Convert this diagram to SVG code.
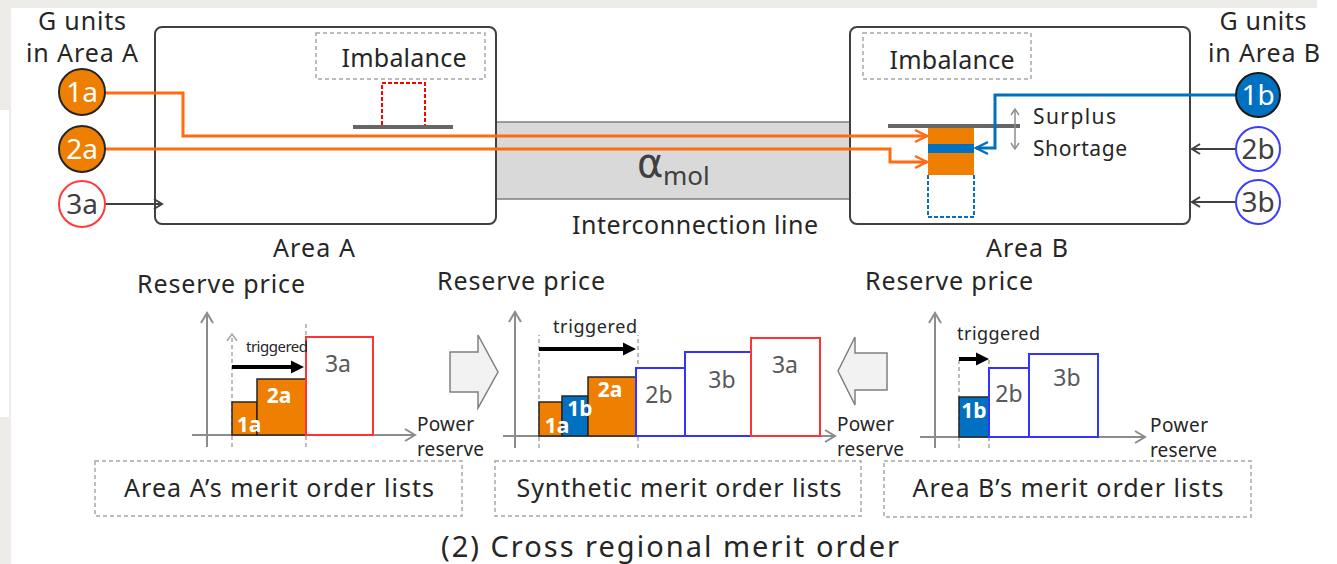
<svg xmlns="http://www.w3.org/2000/svg" width="1337" height="564" viewBox="0 0 1337 564">
<style>
text{font-family:"Noto Sans","Liberation Sans",Arial,sans-serif;fill:#262626}
.lbl{font-size:25px}
.mid{text-anchor:middle}
.cw{fill:#ffffff;font-size:28px}
.cd{fill:#404040;font-size:28px}
.bw{fill:#ffffff;font-size:21px;font-weight:bold}
.gl{fill:#595959;font-size:23px}
.trg{font-size:18px}
.pr{font-size:19px}
.box{fill:#ffffff;stroke:#404040;stroke-width:2}
.dbox{fill:none;stroke:#a6a6a6;stroke-width:1.5;stroke-dasharray:4 3}
.axis{stroke:#8c8c8c;stroke-width:2;fill:none;marker-end:url(#mGray)}
.dash{stroke:#a6a6a6;stroke-width:1.5;stroke-dasharray:4 3;fill:none}
.or{fill:#ee7f00;stroke:#262626;stroke-width:1.5}
.bl{fill:#0070c0;stroke:#262626;stroke-width:1.5}
.wb{fill:#ffffff;stroke:#3333ff;stroke-width:2}
.wr{fill:#ffffff;stroke:#ff3333;stroke-width:2}
.trig{stroke:#000;stroke-width:4;fill:none;marker-end:url(#mBlack)}
.blk{fill:#f2f2f2;stroke:#808080;stroke-width:1.5}
</style>
<defs>
<marker id="mOrange" markerUnits="userSpaceOnUse" markerWidth="16" markerHeight="16" refX="13" refY="7" orient="auto" overflow="visible"><path d="M1,1 L13,7 L1,13" fill="none" stroke="#ff6a13" stroke-width="2.5"/></marker>
<marker id="mBlue" markerUnits="userSpaceOnUse" markerWidth="16" markerHeight="16" refX="13" refY="7" orient="auto" overflow="visible"><path d="M1,1 L13,7 L1,13" fill="none" stroke="#0070c0" stroke-width="2.5"/></marker>
<marker id="mDark" markerUnits="userSpaceOnUse" markerWidth="12" markerHeight="12" refX="9" refY="5" orient="auto" overflow="visible"><path d="M1,0 L9,5 L1,10" fill="none" stroke="#404040" stroke-width="2"/></marker>
<marker id="mGray" markerUnits="userSpaceOnUse" markerWidth="14" markerHeight="14" refX="10" refY="6" orient="auto" overflow="visible"><path d="M0,0 L10,6 L0,12" fill="none" stroke="#8c8c8c" stroke-width="2"/></marker>
<marker id="mGraySm" markerUnits="userSpaceOnUse" markerWidth="10" markerHeight="10" refX="6" refY="4" orient="auto-start-reverse" overflow="visible"><path d="M0,0 L6,4 L0,8" fill="none" stroke="#8c8c8c" stroke-width="1.5"/></marker>
<marker id="mBlack" markerUnits="userSpaceOnUse" markerWidth="14" markerHeight="14" refX="2" refY="6.5" orient="auto" overflow="visible"><path d="M0,0 L13,6.5 L0,13 z" fill="#000"/></marker>
</defs>

<!-- background -->
<rect x="0" y="0" width="1337" height="564" fill="#ffffff"/>
<rect x="0" y="0" width="1317" height="8" fill="#eeece8"/>
<rect x="0" y="0" width="11" height="110" fill="#eeece8"/>
<rect x="9" y="110" width="2" height="307" fill="#eeece8"/>
<rect x="0" y="417" width="11" height="147" fill="#eeece8"/>

<!-- Interconnection line -->
<g id="interconnection">
<rect x="496" y="122" width="354" height="77" fill="#d9d9d9" stroke="#7f7f7f" stroke-width="1.5"/>
<text x="637" y="177" style="font-family:'DejaVu Sans',sans-serif;font-size:40px;fill:#404040">α</text>
<text x="663" y="185" style="font-size:26px;fill:#404040">mol</text>
<text x="695" y="234" class="lbl mid" textLength="246" lengthAdjust="spacing">Interconnection line</text>
</g>

<!-- Area A -->
<g id="areaA">
<rect x="155" y="27" width="341" height="197" rx="7" class="box"/>
<rect x="316" y="33" width="169" height="46" class="dbox"/>
<text x="404" y="67" class="lbl mid" textLength="125" lengthAdjust="spacing">Imbalance</text>
<path d="M382,125 V83 H425 V125" fill="none" stroke="#ff0000" stroke-width="2" stroke-dasharray="4 2"/>
<line x1="353" y1="127" x2="453" y2="127" stroke="#666666" stroke-width="4"/>
<text x="314" y="257" class="lbl mid" textLength="82" lengthAdjust="spacing">Area A</text>
</g>

<!-- Area B -->
<g id="areaB">
<rect x="850" y="27" width="340" height="197" rx="7" class="box"/>
<rect x="863" y="33" width="168" height="46" class="dbox"/>
<text x="952" y="69" class="lbl mid" textLength="125" lengthAdjust="spacing">Imbalance</text>
<rect x="928" y="128" width="46" height="47" fill="#ee7f00"/>
<rect x="928" y="144" width="46" height="9" fill="#0070c0"/>
<path d="M928,175 V217 H974 V175" fill="none" stroke="#0070c0" stroke-width="2" stroke-dasharray="4 2"/>
<line x1="888" y1="126" x2="1020" y2="126" stroke="#666666" stroke-width="4"/>
<line x1="1015" y1="109" x2="1015" y2="149" stroke="#8c8c8c" stroke-width="1.5" marker-start="url(#mGraySm)" marker-end="url(#mGraySm)"/>
<text x="1033" y="124" style="font-size:21px" textLength="83" lengthAdjust="spacing">Surplus</text>
<text x="1033" y="156" style="font-size:21px" textLength="94" lengthAdjust="spacing">Shortage</text>
<text x="1027" y="257" class="lbl mid" textLength="82" lengthAdjust="spacing">Area B</text>
</g>

<!-- Connectors -->
<g id="connectors" fill="none">
<path d="M105,93 H183 V136 H927" stroke="#ff6a13" stroke-width="3" marker-end="url(#mOrange)"/>
<path d="M105,149 H890 V162 H927" stroke="#ff6a13" stroke-width="3" marker-end="url(#mOrange)"/>
<path d="M1236,95 H995 V148 H976" stroke="#0070c0" stroke-width="3" marker-end="url(#mBlue)"/>
<line x1="105" y1="204" x2="162" y2="204" stroke="#404040" stroke-width="2" marker-end="url(#mDark)"/>
<line x1="1236" y1="149" x2="1192" y2="149" stroke="#404040" stroke-width="2" marker-end="url(#mDark)"/>
<line x1="1236" y1="202" x2="1192" y2="202" stroke="#404040" stroke-width="2" marker-end="url(#mDark)"/>
</g>

<!-- G units labels -->
<g id="unitsA-label">
<text x="82" y="30" class="lbl mid" textLength="88" lengthAdjust="spacing">G units</text>
<text x="82" y="62" class="lbl mid" textLength="112" lengthAdjust="spacing">in Area A</text>
</g>
<g id="unitsB-label">
<text x="1263" y="30" class="lbl mid" textLength="87" lengthAdjust="spacing">G units</text>
<text x="1264" y="62" class="lbl mid" textLength="112" lengthAdjust="spacing">in Area B</text>
</g>

<!-- Unit circles -->
<g id="unit-1a"><circle cx="82" cy="92" r="23" fill="#ee7f00" stroke="#262626" stroke-width="2"/><text x="82" y="102" class="cw mid">1a</text></g>
<g id="unit-2a"><circle cx="82" cy="149" r="23" fill="#ee7f00" stroke="#262626" stroke-width="2"/><text x="82" y="159" class="cw mid">2a</text></g>
<g id="unit-3a"><circle cx="82" cy="204" r="23" fill="#ffffff" stroke="#ff3b3b" stroke-width="2"/><text x="82" y="214" class="cd mid">3a</text></g>
<g id="unit-1b"><circle cx="1258" cy="95" r="22" fill="#0070c0" stroke="#1a1a1a" stroke-width="2"/><text x="1258" y="105" class="cw mid">1b</text></g>
<g id="unit-2b"><circle cx="1258" cy="149" r="22" fill="#ffffff" stroke="#3d3dff" stroke-width="2"/><text x="1258" y="159" class="cd mid">2b</text></g>
<g id="unit-3b"><circle cx="1258" cy="202" r="22" fill="#ffffff" stroke="#3d3dff" stroke-width="2"/><text x="1258" y="212" class="cd mid">3b</text></g>

<!-- Left chart: Area A merit order -->
<g id="chartA">
<text x="137" y="293" class="lbl" textLength="168" lengthAdjust="spacing">Reserve price</text>
<line x1="207" y1="447" x2="207" y2="313" class="axis"/>
<line x1="192" y1="435" x2="415" y2="435" class="axis"/>
<line x1="232" y1="447" x2="232" y2="334" class="dash"/>
<polyline points="227,341 232,334 237,341" fill="none" stroke="#a6a6a6" stroke-width="1.5"/>
<line x1="306" y1="447" x2="306" y2="323" class="dash"/>
<rect x="232" y="402" width="25" height="33" class="or"/>
<rect x="257" y="379" width="49" height="56" class="or"/>
<rect x="306" y="337" width="67" height="98" class="wr"/>
<text x="246" y="352" style="font-size:15px" textLength="62" lengthAdjust="spacing">triggered</text>
<line x1="232" y1="367" x2="293" y2="367" class="trig"/>
<text x="249" y="432" class="bw mid">1a</text>
<text x="279" y="403" class="bw mid">2a</text>
<text x="338" y="372" class="gl mid">3a</text>
<text x="417" y="431" class="pr" textLength="57" lengthAdjust="spacing">Power</text>
<text x="417" y="456" class="pr" textLength="67" lengthAdjust="spacing">reserve</text>
</g>

<!-- Middle chart: synthetic merit order -->
<g id="chartSynthetic">
<polygon points="450,352 478,352 478,335 498,372 478,408 478,392 450,392" class="blk"/>
<text x="437" y="290" class="lbl" textLength="168" lengthAdjust="spacing">Reserve price</text>
<line x1="515" y1="448" x2="515" y2="312" class="axis"/>
<line x1="503" y1="436" x2="835" y2="436" class="axis"/>
<line x1="539" y1="448" x2="539" y2="335" class="dash"/>
<line x1="638" y1="448" x2="638" y2="335" class="dash"/>
<rect x="539" y="402" width="23" height="34" class="or"/>
<rect x="562" y="396" width="26" height="40" class="bl"/>
<rect x="588" y="377" width="48" height="59" class="or"/>
<rect x="636" y="368" width="49" height="68" class="wb"/>
<rect x="685" y="352" width="66" height="84" class="wb"/>
<rect x="751" y="338" width="69" height="98" class="wr"/>
<text x="553" y="333" class="trg" textLength="84" lengthAdjust="spacing">triggered</text>
<line x1="539" y1="349" x2="625" y2="349" class="trig"/>
<text x="557" y="433" class="bw mid">1a</text>
<text x="580" y="416" class="bw mid">1b</text>
<text x="610" y="397" class="bw mid">2a</text>
<text x="659" y="403" class="gl mid">2b</text>
<text x="722" y="388" class="gl mid">3b</text>
<text x="785" y="373" class="gl mid">3a</text>
<text x="837" y="431" class="pr" textLength="57" lengthAdjust="spacing">Power</text>
<text x="837" y="456" class="pr" textLength="67" lengthAdjust="spacing">reserve</text>
</g>

<!-- Right chart: Area B merit order -->
<g id="chartB">
<polygon points="887,353 855,353 855,337 838,371 855,405 855,390 887,390" class="blk"/>
<text x="865" y="290" class="lbl" textLength="168" lengthAdjust="spacing">Reserve price</text>
<line x1="935" y1="448" x2="935" y2="313" class="axis"/>
<line x1="920" y1="437" x2="1145" y2="437" class="axis"/>
<line x1="959" y1="448" x2="959" y2="357" class="dash"/>
<line x1="989" y1="448" x2="989" y2="357" class="dash"/>
<rect x="959" y="397" width="30" height="40" class="bl"/>
<rect x="989" y="368" width="40" height="69" class="wb"/>
<rect x="1029" y="354" width="69" height="83" class="wb"/>
<text x="957" y="340" class="trg" textLength="83" lengthAdjust="spacing">triggered</text>
<line x1="959" y1="359" x2="978" y2="359" class="trig"/>
<text x="974" y="418" class="bw mid">1b</text>
<text x="1009" y="402" class="gl mid">2b</text>
<text x="1067" y="386" class="gl mid">3b</text>
<text x="1150" y="432" class="pr" textLength="58" lengthAdjust="spacing">Power</text>
<text x="1150" y="457" class="pr" textLength="67" lengthAdjust="spacing">reserve</text>
</g>

<!-- Bottom captions -->
<g id="caption-A">
<rect x="95" y="461" width="367" height="55" class="dbox"/>
<text x="279" y="497" class="lbl mid" textLength="310" lengthAdjust="spacing">Area A’s merit order lists</text>
</g>
<g id="caption-synthetic">
<rect x="495" y="461" width="366" height="55" class="dbox"/>
<text x="679" y="497" class="lbl mid" textLength="325" lengthAdjust="spacing">Synthetic merit order lists</text>
</g>
<g id="caption-B">
<rect x="884" y="461" width="367" height="56" class="dbox"/>
<text x="1068" y="497" class="lbl mid" textLength="311" lengthAdjust="spacing">Area B’s merit order lists</text>
</g>
<g id="title">
<text x="670" y="557" class="mid" style="font-size:29px" textLength="458" lengthAdjust="spacing">(2) Cross regional merit order</text>
</g>
</svg>
